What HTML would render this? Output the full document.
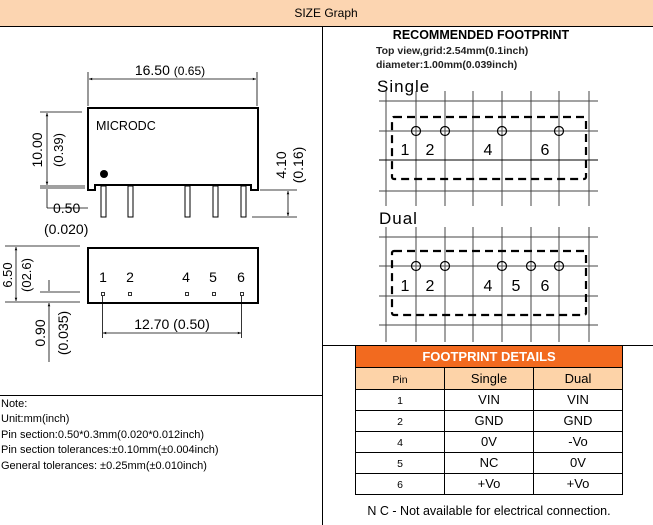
<!DOCTYPE html>
<html><head><meta charset="utf-8"><style>
html,body{margin:0;padding:0;background:#fff;}
svg{display:block;font-family:"Liberation Sans",Arial,sans-serif;}
</style></head><body>
<svg width="653" height="525" viewBox="0 0 653 525" xmlns="http://www.w3.org/2000/svg">
<defs>
<marker id="a" viewBox="0 0 10 10" refX="10" refY="5" markerWidth="6" markerHeight="4" orient="auto-start-reverse"><path d="M0,1 L10,5 L0,9 z" fill="#000"/></marker>
</defs>
<rect x="0" y="0" width="653" height="26" fill="#fcd5b1"/>
<line x1="0" y1="26.5" x2="653" y2="26.5" stroke="#000"/>
<text x="326" y="17" font-size="12" text-anchor="middle">SIZE Graph</text>
<line x1="322.5" y1="27" x2="322.5" y2="525" stroke="#000"/>
<line x1="0" y1="395.5" x2="322" y2="395.5" stroke="#000"/>
<line x1="322" y1="345.5" x2="653" y2="345.5" stroke="#000"/>

<g stroke="#000" fill="none">
<line x1="88" y1="72" x2="88" y2="106" stroke-width="0.8"/>
<line x1="257" y1="72" x2="257" y2="106" stroke-width="0.8"/>
<line x1="89" y1="79" x2="256" y2="79" stroke-width="0.8" marker-start="url(#a)" marker-end="url(#a)"/>
<path d="M88,108 H258 V190 H251 V185 H95 V190 H88 Z" stroke-width="2" fill="#fff"/>
<g stroke-width="1">
<rect x="101" y="186" width="5" height="31"/><rect x="128" y="186" width="5" height="31"/>
<rect x="185" y="186" width="5" height="31"/><rect x="213" y="186" width="5" height="31"/>
<rect x="241" y="186" width="5" height="31"/>
</g>
<g stroke-width="0.8">
<line x1="40" y1="112" x2="82" y2="112"/>
<line x1="40" y1="186" x2="85" y2="186"/><line x1="40" y1="188" x2="85" y2="188"/>
<line x1="47" y1="113" x2="47" y2="185" marker-start="url(#a)" marker-end="url(#a)"/>
<line x1="47" y1="189" x2="47" y2="208"/>
<line x1="47" y1="208" x2="88" y2="208"/>
<line x1="260" y1="190" x2="297" y2="190"/>
<line x1="252" y1="217" x2="297" y2="217"/>
<line x1="288" y1="191" x2="288" y2="216" marker-start="url(#a)" marker-end="url(#a)"/>
</g>
</g>
<circle cx="104" cy="174" r="4" fill="#000"/>
<text x="96" y="130" font-size="12.5">MICRODC</text>
<text x="170" y="75" font-size="14" text-anchor="middle">16.50 <tspan font-size="12">(0.65)</tspan></text>
<text transform="translate(42,150) rotate(-90)" font-size="14" text-anchor="middle">10.00</text>
<text transform="translate(63,150) rotate(-90)" font-size="13" text-anchor="middle">(0.39)</text>
<text x="53" y="213" font-size="14">0.50</text>
<text x="44" y="234" font-size="14">(0.020)</text>
<text transform="translate(286,165) rotate(-90)" font-size="14" text-anchor="middle">4.10</text>
<text transform="translate(303,165) rotate(-90)" font-size="14" text-anchor="middle">(0.16)</text>

<g stroke="#000" fill="none">
<rect x="88" y="248" width="170" height="55" stroke-width="2"/>
<g stroke-width="0.8">
<rect x="101.5" y="292.5" width="3" height="3"/><rect x="128.5" y="292.5" width="3" height="3"/>
<rect x="185.5" y="292.5" width="3" height="3"/><rect x="212.5" y="292.5" width="3" height="3"/>
<rect x="240.5" y="292.5" width="3" height="3"/>
<line x1="102.5" y1="296" x2="102.5" y2="338"/><line x1="241.5" y1="296" x2="241.5" y2="338"/>
<line x1="103" y1="333" x2="241" y2="333" marker-start="url(#a)" marker-end="url(#a)"/>
<line x1="5" y1="246" x2="80" y2="246"/>
<line x1="5" y1="302" x2="80" y2="302"/>
<line x1="40" y1="292" x2="80" y2="292"/>
<line x1="16" y1="247" x2="16" y2="301" marker-start="url(#a)" marker-end="url(#a)"/>
<line x1="49" y1="280" x2="49" y2="291"/>
<line x1="49" y1="303" x2="49" y2="362" marker-start="url(#a)"/>
</g>
</g>
<g font-size="14" text-anchor="middle">
<text x="103" y="282">1</text><text x="130" y="282">2</text><text x="186" y="282">4</text><text x="213" y="282">5</text><text x="241" y="282">6</text>
</g>
<text x="172" y="329" font-size="14" text-anchor="middle">12.70 (0.50)</text>
<text transform="translate(12,275) rotate(-90)" font-size="13" text-anchor="middle">6.50</text>
<text transform="translate(31,275) rotate(-90)" font-size="13" text-anchor="middle">(02.6)</text>
<text transform="translate(45,333) rotate(-90)" font-size="14" text-anchor="middle">0.90</text>
<text transform="translate(68,333) rotate(-90)" font-size="14" text-anchor="middle">(0.035)</text>

<g font-size="11">
<text x="1" y="407">Note:</text>
<text x="1" y="422">Unit:mm(inch)</text>
<text x="1" y="438">Pin section:0.50*0.3mm(0.020*0.012inch)</text>
<text x="1" y="453">Pin section tolerances:±0.10mm(±0.004inch)</text>
<text x="1" y="469">General tolerances: ±0.25mm(±0.010inch)</text>
</g>

<text x="481" y="39" font-size="12.5" font-weight="bold" text-anchor="middle">RECOMMENDED FOOTPRINT</text>
<text x="376" y="54" font-size="10.5" font-weight="bold" fill="#222">Top view,grid:2.54mm(0.1inch)</text>
<text x="376" y="68" font-size="10.5" font-weight="bold" fill="#222">diameter:1.00mm(0.039inch)</text>
<text x="377" y="92" font-size="17" letter-spacing="1">Single</text>
<text x="379" y="224" font-size="17" letter-spacing="1">Dual</text>
<g stroke="#444" stroke-width="1">
<g id="gs">
<line x1="386" y1="91" x2="386" y2="206"/><line x1="416" y1="91" x2="416" y2="206"/>
<line x1="445" y1="91" x2="445" y2="206"/><line x1="473" y1="91" x2="473" y2="206"/>
<line x1="502" y1="91" x2="502" y2="206"/><line x1="531" y1="91" x2="531" y2="206"/>
<line x1="559" y1="91" x2="559" y2="206"/><line x1="589" y1="91" x2="589" y2="206"/>
</g>
<line x1="379" y1="101" x2="598" y2="101"/><line x1="379" y1="131" x2="598" y2="131"/>
<line x1="379" y1="160" x2="598" y2="160" stroke="#000"/><line x1="379" y1="191" x2="598" y2="191"/>
<use href="#gs" transform="translate(0,136)"/>
<line x1="379" y1="237" x2="598" y2="237"/><line x1="379" y1="266" x2="598" y2="266"/>
<line x1="379" y1="296" x2="598" y2="296"/><line x1="379" y1="325" x2="598" y2="325"/>
</g>
<g stroke="#000" stroke-width="2.2" fill="none" stroke-dasharray="8,5">
<rect x="392" y="117" width="194" height="62" rx="2"/>
<rect x="392" y="251" width="194" height="64" rx="2"/>
</g>
<g stroke="#000" stroke-width="1.2" fill="none">
<circle cx="416" cy="131" r="4.5"/><circle cx="445" cy="131" r="4.5"/><circle cx="502" cy="131" r="4.5"/><circle cx="559" cy="131" r="4.5"/>
<circle cx="416" cy="266" r="4.5"/><circle cx="445" cy="266" r="4.5"/><circle cx="502" cy="266" r="4.5"/><circle cx="531" cy="266" r="4.5"/><circle cx="559" cy="266" r="4.5"/>
</g>
<g font-size="16" text-anchor="middle">
<text x="405" y="155">1</text><text x="430" y="155">2</text><text x="488" y="155">4</text><text x="545" y="155">6</text>
<text x="405" y="291">1</text><text x="430" y="291">2</text><text x="488" y="291">4</text><text x="516" y="291">5</text><text x="545" y="291">6</text>
</g>

<rect x="355" y="346" width="268" height="21" fill="#f26a1f"/>
<text x="489" y="361" font-size="13" font-weight="bold" fill="#fff" text-anchor="middle">FOOTPRINT DETAILS</text>
<rect x="355" y="367" width="268" height="22" fill="#fdd3a8"/>
<g stroke="#000" stroke-width="1">
<line x1="355" y1="367.5" x2="623" y2="367.5"/>
<line x1="355" y1="389.5" x2="623" y2="389.5"/>
<line x1="355" y1="410.5" x2="623" y2="410.5"/>
<line x1="355" y1="431.5" x2="623" y2="431.5"/>
<line x1="355" y1="452.5" x2="623" y2="452.5"/>
<line x1="355" y1="473.5" x2="623" y2="473.5"/>
<line x1="355" y1="494.5" x2="623" y2="494.5"/>
<line x1="355.5" y1="346" x2="355.5" y2="495"/>
<line x1="622.5" y1="346" x2="622.5" y2="495"/>
<line x1="444.5" y1="367" x2="444.5" y2="495"/>
<line x1="533.5" y1="367" x2="533.5" y2="495"/>
</g>
<g font-size="13" text-anchor="middle">
<text x="400" y="383" font-size="10.5">Pin</text><text x="489" y="383">Single</text><text x="578" y="383">Dual</text>
<text x="400" y="404" font-size="10.5">1</text><text x="489" y="404">VIN</text><text x="578" y="404">VIN</text>
<text x="400" y="425" font-size="10.5">2</text><text x="489" y="425">GND</text><text x="578" y="425">GND</text>
<text x="400" y="446" font-size="10.5">4</text><text x="489" y="446">0V</text><text x="578" y="446">-Vo</text>
<text x="400" y="467" font-size="10.5">5</text><text x="489" y="467">NC</text><text x="578" y="467">0V</text>
<text x="400" y="488" font-size="10.5">6</text><text x="489" y="488">+Vo</text><text x="578" y="488">+Vo</text>
</g>
<text x="489" y="515" font-size="12.5" text-anchor="middle">N C - Not available for electrical connection.</text>
</svg>
</body></html>
